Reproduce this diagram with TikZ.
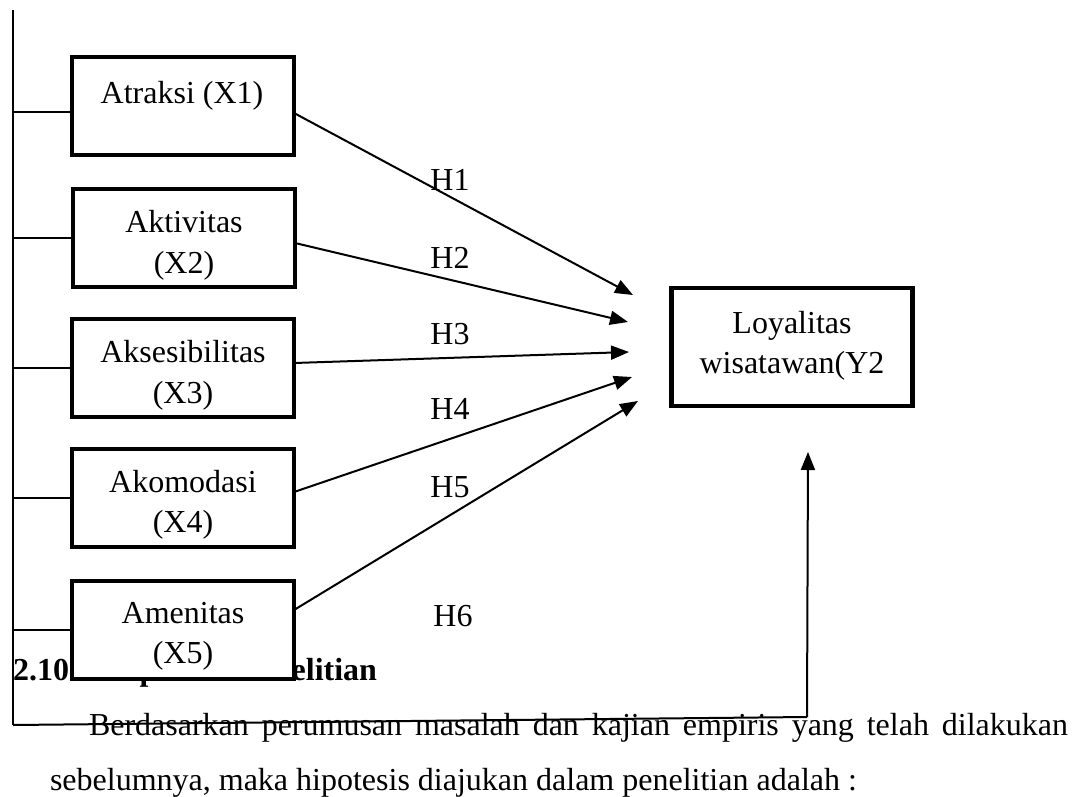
\documentclass[tikz,border=0pt]{standalone}
\usepackage{fontspec}
\setmainfont{Liberation Serif}
\usetikzlibrary{arrows.meta}
\begin{document}
\begin{tikzpicture}[x=1pt,y=-1pt,
  every node/.style={inner sep=0pt, outer sep=0pt},
  txt/.style={font=\fontsize{32}{41}\selectfont},
  btxt/.style={txt, anchor=base},
  varbox/.style={draw, line width=4.5pt, fill=white, minimum width=222pt, minimum height=98pt},
  thinline/.style={line width=1.5pt},
  link/.style={line width=2pt},
  arr/.style={line width=2pt, -{Triangle[length=18pt,width=14pt]}},
  hlab/.style={txt, anchor=base},
]
\useasboundingbox (0,0) rectangle (1080,796);

% text of the page behind the diagram
\node[txt, font=\fontsize{32}{41}\selectfont\bfseries, anchor=base west] (sec) at (13,680) {2.10};
\node[txt, font=\fontsize{32}{41}\selectfont\bfseries, anchor=base east] (sectitle) at (377,680) {Hipotesis Penelitian};
\node[txt, anchor=base west] (par1) at (89,735) {\makebox[979pt][s]{Berdasarkan perumusan masalah dan kajian empiris yang telah dilakukan}};
\node[txt, anchor=base west] (par2) at (50,790) {sebelumnya, maka hipotesis diajukan dalam penelitian adalah :};

% frame lines
\coordinate (ltop) at (13,10);
\coordinate (lbot) at (13,725);
\coordinate (rbot) at (807,717);
\coordinate (rtip) at (808,452);
\draw[thinline] (ltop) -- (lbot);
\draw[link] (lbot) -- (rbot);
\draw[arr] (rbot) -- (rtip);

% boxes
\node[varbox] (X1) at (183,106) {};
\node[varbox] (X2) at (184,238) {};
\node[varbox] (X3) at (183,368) {};
\node[varbox] (X4) at (183,498) {};
\node[varbox] (X5) at (183,630) {};
\node[varbox, minimum width=241pt, minimum height=118pt] (Y) at (792,347) {};

% box texts
\node[btxt] (X1t) at (182,103) {Atraksi (X1)};
\node[btxt] (X2a) at (184,232) {Aktivitas};
\node[btxt] (X2b) at (184,273) {(X2)};
\node[btxt] (X3a) at (183,362) {Aksesibilitas};
\node[btxt] (X3b) at (183,403) {(X3)};
\node[btxt] (X4a) at (183,492) {Akomodasi};
\node[btxt] (X4b) at (183,532) {(X4)};
\node[btxt] (X5a) at (183,623) {Amenitas};
\node[btxt] (X5b) at (183,663) {(X5)};
\node[btxt] (Ya) at (792,333) {Loyalitas};
\node[btxt] (Yb) at (792,373) {wisatawan(Y2};

% left connectors
\coordinate (c1) at ([yshift=-6pt]X1.west);
\draw[thinline] (c1) -- (ltop |- c1);
\draw[thinline] (X2.west) -- (ltop |- X2.west);
\draw[thinline] (X3.west) -- (ltop |- X3.west);
\draw[thinline] (X4.west) -- (ltop |- X4.west);
\draw[thinline] (X5.west) -- (ltop |- X5.west);

% arrow ends
\coordinate (e1) at (633,295);
\coordinate (e2) at (628,322);
\coordinate (e3) at (629,352);
\coordinate (e4) at (632,377);
\coordinate (e5) at (638,401);

\draw[arr] ([yshift=-7pt]X1.east) -- (e1);
\draw[arr] ([yshift=-5pt]X2.east) -- (e2);
\draw[arr] ([yshift=5pt]X3.east) -- (e3);
\draw[arr] ([yshift=6pt]X4.east) -- (e4);
\draw[arr] ([yshift=20pt]X5.east) -- (e5);

% labels
\node[hlab] (h1) at (450,190) {H1};
\node[hlab] (h2) at (450,268) {H2};
\node[hlab] (h3) at (450,344) {H3};
\node[hlab] (h4) at (450,419) {H4};
\node[hlab] (h5) at (450,497) {H5};
\node[hlab] (h6) at (453,626) {H6};
\end{tikzpicture}
\end{document}
